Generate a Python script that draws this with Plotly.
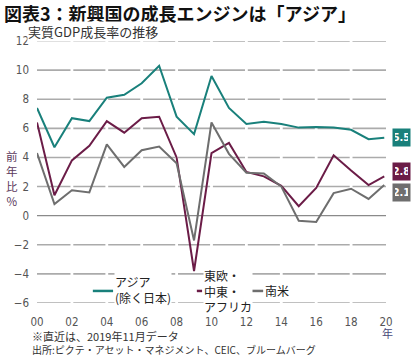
import plotly.graph_objects as go

years = [2000, 2001, 2002, 2003, 2004, 2005, 2006, 2007, 2008, 2009, 2010,
         2011, 2012, 2013, 2014, 2015, 2016, 2017, 2018, 2019, 2019.9]
x_vals = [y - 2000 for y in years]

asia = [7.4, 4.7, 6.7, 6.5, 8.1, 8.3, 9.1, 10.3, 6.8, 5.6, 9.6,
        7.4, 6.3, 6.45, 6.3, 6.05, 6.1, 6.05, 5.9, 5.25, 5.35]
emea = [6.4, 1.4, 3.8, 4.8, 6.5, 5.7, 6.7, 6.8, 4.0, -3.8, 4.3,
        5.0, 3.0, 2.7, 2.05, 0.65, 1.9, 4.15, 3.1, 2.1, 2.7]
latam = [4.3, 0.8, 1.75, 1.6, 4.9, 3.35, 4.5, 4.75, 3.6, -1.7, 6.4,
         4.25, 2.95, 2.9, 2.0, -0.35, -0.43, 1.55, 1.85, 1.15, 2.1]

series_names = ["アジア<br>(除く日本)", "東欧・<br>中東・<br>アフリカ", "南米"]
end_labels = ["5.5", "2.8", "2.1"]
colors = ["#19807b", "#6b1c47", "#6e6e6e"]

y_ticks = [-6, -4, -2, 0, 2, 4, 6, 8, 10, 12]
x_ticks = [0, 2, 4, 6, 8, 10, 12, 14, 16, 18, 20]
x_ticklabels = ["00", "02", "04", "06", "08", "10", "12", "14", "16", "18", "20"]

JP = "Noto Sans CJK JP"
NARROW = "Liberation Sans Narrow, DejaVu Sans Condensed, sans-serif"

fig = go.Figure()

for vals, name, col in zip([asia, emea, latam], series_names, colors):
    fig.add_trace(go.Scatter(x=x_vals, y=vals, mode="lines", name=name,
                             line=dict(color=col, width=2), showlegend=False,
                             hoverinfo="skip"))

shapes = []
# segmented gridlines
for yv in y_ticks:
    if yv == 0:
        shapes.append(dict(type="line", xref="x", yref="y", x0=0, x1=20, y0=0, y1=0,
                           line=dict(color="#8a8a8a", width=1.2), layer="below"))
        continue
    for k in range(0, 20, 2):
        shapes.append(dict(type="line", xref="x", yref="y", x0=k + 0.08 if k else 0,
                           x1=k + 2 - 0.08 if k < 18 else 20, y0=yv, y1=yv,
                           line=dict(color="#ababab", width=1.6), layer="below"))
# white background behind legend area
shapes.append(dict(type="rect", xref="paper", yref="paper", x0=0.209, x1=0.605,
                   y0=0.068, y1=0.118, fillcolor="white", line=dict(width=0), layer="below"))
# legend line keys
legend_keys = [(0.160, 0.218), (0.458, 0.473), (0.605, 0.648)]
for (a, b), col in zip(legend_keys, colors):
    shapes.append(dict(type="line", xref="paper", yref="paper", x0=a, x1=b,
                       y0=0.046, y1=0.046, line=dict(color=col, width=2.5)))

annotations = []
# legend texts
annotations.append(dict(text=series_names[0], xref="paper", yref="paper", x=0.222, y=0.053,
                        xanchor="left", yanchor="middle", showarrow=False, align="left",
                        font=dict(family=JP, size=12, color="#222"), bgcolor="white", borderpad=0))
annotations.append(dict(text=series_names[1], xref="paper", yref="paper", x=0.475, y=0.046,
                        xanchor="left", yanchor="middle", showarrow=False, align="left",
                        font=dict(family=JP, size=12, color="#222"), bgcolor="white", borderpad=0))
annotations.append(dict(text=series_names[2], xref="paper", yref="paper", x=0.650, y=0.046,
                        xanchor="left", yanchor="middle", showarrow=False, align="left",
                        font=dict(family=JP, size=12, color="#222"), bgcolor="white", borderpad=0))

# end value boxes
shifts = [0, 5, -7.5]
for vals, lab, col, ys in zip([asia, emea, latam], end_labels, colors, shifts):
    annotations.append(dict(text="<b>" + lab + "</b>", x=20, y=vals[-1], xref="x", yref="y",
                            xanchor="center", yanchor="middle", xshift=15, yshift=ys,
                            showarrow=False, bgcolor=col, borderpad=2, width=13, height=13,
                            font=dict(family=NARROW, size=11, color="white")))

# title / subtitle
annotations.append(dict(text="<b>図表3：新興国の成長エンジンは「アジア」</b>", xref="paper", yref="paper",
                        x=-0.100, y=1.108, xanchor="left", yanchor="middle", showarrow=False,
                        font=dict(family=JP, size=18, color="#111")))
annotations.append(dict(text="実質GDP成長率の推移", xref="paper", yref="paper",
                        x=-0.029, y=1.037, xanchor="left", yanchor="middle", showarrow=False,
                        font=dict(family=JP, size=13, color="#333"), bgcolor="white", borderpad=0))
# y-axis title
annotations.append(dict(text="前<br>年<br>比<br>%", xref="paper", yref="paper",
                        x=-0.0716, y=0.477, xanchor="center", yanchor="middle", showarrow=False,
                        font=dict(family=JP, size=11.5, color="#5c3a5c"), align="center"))
# year unit
annotations.append(dict(text="年", xref="paper", yref="paper", x=1.003, y=-0.115,
                        xanchor="center", yanchor="middle", showarrow=False,
                        font=dict(family=JP, size=11, color="#4a4a7a")))
# footnotes
annotations.append(dict(text="※直近は、2019年11月データ", xref="paper", yref="paper",
                        x=-0.020, y=-0.127, xanchor="left", yanchor="middle", showarrow=False,
                        font=dict(family=JP, size=11, color="#333")))
annotations.append(dict(text="出所:ピクテ・アセット・マネジメント、CEIC、ブルームバーグ", xref="paper", yref="paper",
                        x=-0.020, y=-0.177, xanchor="left", yanchor="middle", showarrow=False,
                        font=dict(family=JP, size=10, color="#333")))

fig.update_layout(
    width=419, height=359,
    margin=dict(l=37, r=33, t=41, b=56),
    paper_bgcolor="white", plot_bgcolor="white",
    shapes=shapes, annotations=annotations,
    xaxis=dict(range=[0, 20], tickvals=x_ticks, ticktext=x_ticklabels, showgrid=False,
               zeroline=False, showline=False, ticks="", ticklabelstandoff=10,
               tickfont=dict(family=NARROW, size=11.5, color="#555")),
    yaxis=dict(range=[-6, 12], tickvals=y_ticks, showgrid=False, zeroline=False,
               showline=False, ticks="", ticklabelstandoff=7,
               tickfont=dict(family=NARROW, size=11.5, color="#555")),
)

fig.write_html("out.html", config={"displayModeBar": False},
               post_script="document.body.style.margin='0';document.body.style.overflow='hidden';")
